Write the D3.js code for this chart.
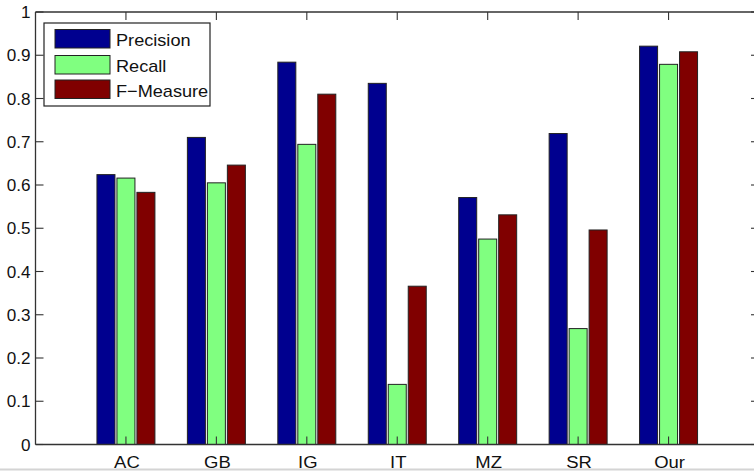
<!DOCTYPE html>
<html>
<head>
<meta charset="utf-8">
<script src="https://cdn.jsdelivr.net/npm/d3@7"></script>
<style>
  html, body { margin: 0; padding: 0; background: #fff; }
  svg { display: block; }
  text { font-family: "Liberation Sans", Arial, sans-serif; fill: #111; }
</style>
</head>
<body>
<svg id="chart" width="754" height="471"></svg>
<script>
const categories = ["AC", "GB", "IG", "IT", "MZ", "SR", "Our"];
const seriesNames = ["Precision", "Recall", "F\u2212Measure"];
const precision = [0.624, 0.710, 0.884, 0.835, 0.571, 0.719, 0.921];
const recall    = [0.616, 0.605, 0.694, 0.139, 0.475, 0.268, 0.879];
const fmeasure  = [0.583, 0.646, 0.810, 0.366, 0.531, 0.496, 0.908];
const yTicks = [0, 0.1, 0.2, 0.3, 0.4, 0.5, 0.6, 0.7, 0.8, 0.9, 1];
const colors = ["#00008f", "#80ff80", "#800000"];

(function () {
const series = [precision, recall, fmeasure];

const svg = d3.select("#chart");
const pL = 35.5, pR = 759, pT = 12, pB = 444.5;

const x = d3.scaleLinear().domain([0, categories.length + 1]).range([pL, pR]);
const y = d3.scaleLinear().domain([0, 1]).range([pB, pT]);

const axisColor = "#333";
const tickLen = 8;

// bars
const offset = 0.221, barW = 0.199;
series.forEach((vals, si) => {
  svg.append("g").selectAll("rect").data(vals).join("rect")
    .attr("x", (d, i) => x(i + 1 + (si - 1) * offset - barW / 2))
    .attr("width", x(barW) - x(0))
    .attr("y", d => y(d))
    .attr("height", d => y(0) - y(d))
    .attr("fill", colors[si])
    .attr("stroke", "#222")
    .attr("stroke-width", 1);
});

// frame
const frame = svg.append("g").attr("stroke", axisColor).attr("stroke-width", 1.3).attr("fill", "none");
frame.append("line").attr("x1", pL).attr("x2", 754).attr("y1", pT).attr("y2", pT);
frame.append("line").attr("x1", pL).attr("x2", 754).attr("y1", pB).attr("y2", pB);
frame.append("line").attr("x1", pL).attr("x2", pL).attr("y1", pT).attr("y2", pB);
frame.append("line").attr("x1", pR).attr("x2", pR).attr("y1", pT).attr("y2", pB);

// y ticks (left and right, inward)
const ticksG = svg.append("g").attr("stroke", axisColor).attr("stroke-width", 1.1);
yTicks.forEach(t => {
  ticksG.append("line").attr("x1", pL).attr("x2", pL + tickLen).attr("y1", y(t)).attr("y2", y(t));
  ticksG.append("line").attr("x1", pR).attr("x2", pR - tickLen).attr("y1", y(t)).attr("y2", y(t));
});
// x ticks (top and bottom, inward)
categories.forEach((c, i) => {
  ticksG.append("line").attr("x1", x(i + 1)).attr("x2", x(i + 1)).attr("y1", pT).attr("y2", pT + tickLen);
  ticksG.append("line").attr("x1", x(i + 1)).attr("x2", x(i + 1)).attr("y1", pB).attr("y2", pB - tickLen);
});

// y tick labels
svg.append("g").selectAll("text").data(yTicks).join("text")
  .attr("transform", d => `translate(30.5,${y(d) + 6}) scale(1.02,1)`)
  .attr("text-anchor", "end")
  .attr("font-size", 16.8)
  .text(d => d === 0 || d === 1 ? String(d) : d3.format(".1f")(d));

// x tick labels
svg.append("g").selectAll("text").data(categories).join("text")
  .attr("transform", (d, i) => `translate(${x(i + 1) + 1},467.5) scale(1.1,1)`)
  .attr("text-anchor", "middle")
  .attr("font-size", 16.8)
  .text(d => d);

// legend
const lg = svg.append("g");
lg.append("rect").attr("x", 44).attr("y", 23).attr("width", 166).attr("height", 83)
  .attr("fill", "#fff").attr("stroke", "#222").attr("stroke-width", 1.2);
const rowY = [29.5, 55.5, 80];
seriesNames.forEach((name, i) => {
  lg.append("rect").attr("x", 55).attr("y", rowY[i]).attr("width", 55).attr("height", 18.5)
    .attr("fill", colors[i]).attr("stroke", "#222").attr("stroke-width", 1);
  lg.append("text")
    .attr("transform", `translate(116,${rowY[i] + 16.5}) scale(1.08,1)`)
    .attr("font-size", 16.8)
    .text(name);
});

// light gray strip at the very bottom of the original image
svg.append("line").attr("x1", 0).attr("x2", 754).attr("y1", 469.5).attr("y2", 469.5)
  .attr("stroke", "#d4d4d4").attr("stroke-width", 2);
})();
</script>
</body>
</html>
